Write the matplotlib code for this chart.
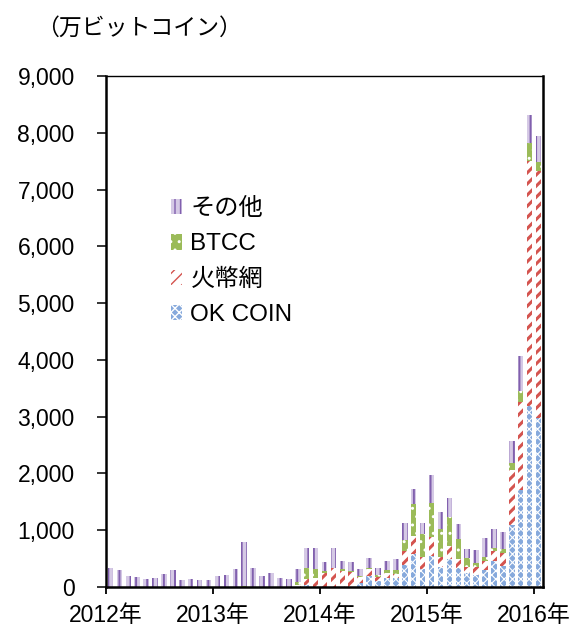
import numpy as np
import matplotlib
matplotlib.use('Agg')
import matplotlib.pyplot as plt

plt.rcParams['font.family'] = ['Liberation Sans', 'Noto Sans CJK JP']

# monthly volume, Jan 2012 - Jan 2016 (10k BTC)
years = ['2012年', '2013年', '2014年', '2015年', '2016年']

okcoin = [0] * 12 + \
    [0, 0, 0, 0, 0, 0, 0, 0, 0, 5, 35, 0] + \
    [0, 0, 0, 0, 65, 192, 107, 158, 150, 380, 578, 315] + \
    [540, 355, 499, 335, 240, 212, 306, 466, 370, 1098, 1700, 3180] + \
    [2975]
huobi = [0] * 12 + \
    [0, 0, 0, 0, 0, 0, 0, 0, 0, 30, 105, 160] + \
    [255, 326, 290, 261, 115, 130, 75, 95, 85, 255, 320, 215] + \
    [335, 170, 223, 164, 105, 140, 160, 165, 237, 969, 1555, 4330] + \
    [4345]
btcc = [0] * 12 + \
    [0, 0, 0, 15, 0, 0, 0, 0, 0, 55, 187, 150] + \
    [18, 17, 24, 17, 10, 15, 25, 45, 70, 188, 570, 410] + \
    [604, 499, 516, 340, 160, 65, 68, 53, 56, 116, 205, 310] + \
    [165]
other = [328, 292, 186, 174, 138, 162, 226, 297, 115, 138, 115, 120] + \
    [198, 218, 318, 777, 342, 192, 248, 157, 133, 232, 358, 370] + \
    [172, 342, 148, 167, 130, 173, 126, 159, 184, 297, 257, 190] + \
    [487, 300, 335, 264, 165, 226, 321, 337, 302, 397, 602, 485] + \
    [450]

okcoin = np.array(okcoin)
huobi = np.array(huobi)
btcc = np.array(btcc)
other = np.array(other)
x = np.arange(len(okcoin))

fig = plt.figure(figsize=(5.79, 6.28), dpi=100)
ax = fig.add_axes([106 / 579, 1 - 587 / 628, 437 / 579, 511 / 628])

w = 0.62
with plt.rc_context({'hatch.linewidth': 0.8}):
    b1 = ax.bar(x, okcoin, w, color='#86a9dc', edgecolor='white', hatch='xxxx', lw=0, label='OK COIN')
with plt.rc_context({'hatch.linewidth': 2.2}):
    b2 = ax.bar(x, huobi, w, bottom=okcoin, color='white', edgecolor='#d4544f', hatch='///', lw=0, label='火幣網')
with plt.rc_context({'hatch.linewidth': 1.0}):
    b3 = ax.bar(x, btcc, w, bottom=okcoin + huobi, color='#9bbb59', edgecolor='white', hatch='..', lw=0, label='BTCC')
with plt.rc_context({'hatch.linewidth': 1.4}):
    b4 = ax.bar(x, other, w, bottom=okcoin + huobi + btcc, color='#d5c9e5', edgecolor='#8160ae', hatch='|||', lw=0, label='その他')

ax.set_xlim(-0.5, len(x) - 0.5)
ax.set_ylim(0, 9000)
ax.set_yticks(np.arange(0, 9001, 1000))
ax.set_yticklabels([f'{v:,}' for v in range(0, 9001, 1000)])
ax.set_xticks([-0.5, 11.5, 23.5, 35.5, 47.5])
ax.set_xticklabels(years)

for s in ['left', 'bottom', 'right']:
    ax.spines[s].set_linewidth(1.8)
ax.spines['top'].set_linewidth(1.0)

ax.tick_params(axis='y', direction='out', length=6.5, width=1.1, pad=16, labelsize=16.5)
ax.tick_params(axis='x', direction='out', length=5, width=1.3, pad=7, labelsize=16.5)

fig.text(36 / 579, 1 - 28 / 628, '（万ビットコイン）', fontsize=16.5, va='center', ha='left',
         family=['Noto Sans CJK JP'])

handles = [b4, b3, b2, b1]
ax.legend(handles, [h.get_label() for h in handles], loc='upper left',
          bbox_to_anchor=(171 / 579, 1 - 198 / 628), bbox_transform=fig.transFigure,
          frameon=False, fontsize=17.5, handlelength=0.45, handleheight=0.6,
          handletextpad=0.35, labelspacing=0.55, borderpad=0, borderaxespad=0)

fig.savefig('out.png', dpi=100)
